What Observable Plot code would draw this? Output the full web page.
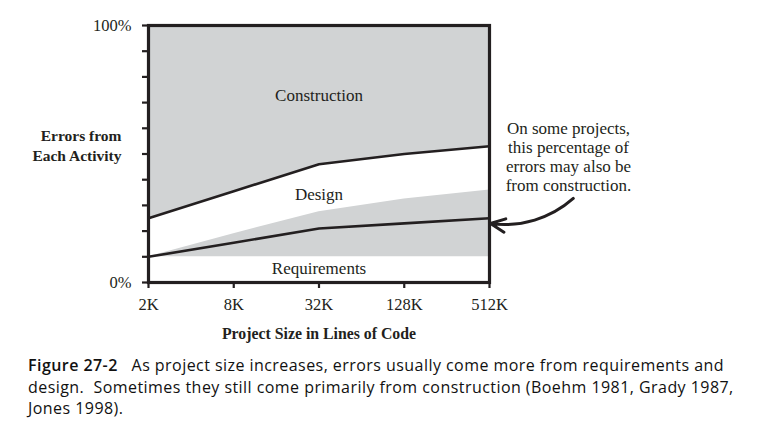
<!DOCTYPE html>
<html>
<head>
<meta charset="utf-8">
<script src="https://cdn.jsdelivr.net/npm/d3@7"></script>
<script src="https://cdn.jsdelivr.net/npm/@observablehq/plot@0.6"></script>
<style>
  body { margin: 0; background: #fff; }
  #chart svg { display: block; }
  #caption {
    font-family: "Open Sans", "Noto Sans", sans-serif;
    font-size: 16px;
    line-height: 21.5px;
    color: #111;
    margin: 10px 0 0 28px;
    white-space: nowrap;
  }
  #caption b { font-weight: 600; }
</style>
</head>
<body>
<div id="chart"></div>
<div id="caption"></div>
<script>
// Project sizes (thousands of lines of code) and tick labels
const sizes = [2, 8, 32, 128, 512];
const sizeLabels = ["2K", "8K", "32K", "128K", "512K"];

// Boundaries (% of errors)
const requirementsTop = [10, 10, 10, 10, 10];       // top of Requirements band
const lowerLine = [10, 15.5, 21, 23, 25];            // lower black line
const shadedDesignTop = [10, 19, 27.5, 32.5, 36];    // top of grey band inside Design
const designTop = [25, 35.5, 46, 50, 53];            // upper black line (Design / Construction)

const yTicks = [0, 10, 20, 30, 40, 50, 60, 70, 80, 90, 100];
const yTickLabels = {0: "0%", 100: "100%"};

// Region labels
const regionNames = ["Construction", "Design", "Requirements"];
const regionX = [32, 32, 32];
const regionY = [72.8, 34.2, 5.4];

// Annotation
const noteText = "On some projects,\nthis percentage of\nerrors may also be\nfrom construction.";
const noteY = 49.2;
const arrowFrom = {x: 2000, y: 32.7};
const arrowTo = {x: 512, y: 23};

const yTitle = "Errors from\nEach Activity";
const xTitle = "Project Size in Lines of Code";

const captionLines = [
  ["Figure 27-2", "   As project size increases, errors usually come more from requirements and"],
  ["", "design.  Sometimes they still come primarily from construction (Boehm 1981, Grady 1987,"],
  ["", "Jones 1998)."]
];

const rows = sizes.map((s, i) => ({
  size: s,
  req: requirementsTop[i],
  low: lowerLine[i],
  shade: shadedDesignTop[i],
  design: designTop[i]
}));

const ink = "#231f20";
const grey = "#d1d3d4";

const plot = Plot.plot({
  width: 771,
  height: 345,
  marginLeft: 148,
  marginRight: 282,
  marginTop: 25,
  marginBottom: 63,
  style: {fontFamily: "'Liberation Serif', 'DejaVu Serif', serif", fontSize: "16px", color: ink, background: "#fff", overflow: "visible"},
  x: {type: "log", base: 2, domain: [2, 512]},
  y: {domain: [0, 100]},
  marks: [
    Plot.areaY(rows, {x: "size", y1: "design", y2: () => 100, fill: grey}),
    Plot.areaY(rows, {x: "size", y1: "req", y2: "shade", fill: grey}),
    Plot.line(rows, {x: "size", y: "design", stroke: ink, strokeWidth: 2.6}),
    Plot.line(rows, {x: "size", y: "low", stroke: ink, strokeWidth: 2.6}),
    Plot.frame({stroke: ink, strokeWidth: 3.2}),
    Plot.axisY({ticks: yTicks, tickSize: 6, tickPadding: 11, strokeWidth: 2.2, stroke: ink, fill: ink,
      tickFormat: d => yTickLabels[d] ?? "", label: null, fontSize: 16.5}),
    Plot.axisX({ticks: sizes, tickSize: 6, tickPadding: 10, strokeWidth: 2.2, stroke: ink, fill: ink,
      tickFormat: d => sizeLabels[sizes.indexOf(d)], label: null, fontSize: 16.5}),
    Plot.text(regionNames, {x: (d, i) => regionX[i], y: (d, i) => regionY[i], text: d => d, fill: ink, fontSize: 17}),
    Plot.text([yTitle], {frameAnchor: "left", dx: -27, y: () => 53.6, textAnchor: "end", fontWeight: "bold", fill: ink, fontSize: 15.5, lineHeight: 1.28}),
    Plot.text([xTitle], {frameAnchor: "bottom", dy: 51, lineAnchor: "middle", fontWeight: "bold", fill: ink, fontSize: 15.8}),
    Plot.text([noteText], {frameAnchor: "right", dx: 79, y: () => noteY, textAnchor: "middle", fill: ink, fontSize: 17, lineHeight: 1.12}),
    Plot.arrow([0], {x1: () => arrowFrom.x, y1: () => arrowFrom.y, x2: () => arrowTo.x, y2: () => arrowTo.y,
      bend: 25, stroke: ink, strokeWidth: 3, headLength: 8, headAngle: 50, insetEnd: 1})
  ]
});
document.getElementById("chart").append(plot);

const cap = document.getElementById("caption");
captionLines.forEach(([bold, rest]) => {
  const div = document.createElement("div");
  if (bold) { const b = document.createElement("b"); b.textContent = bold; div.append(b); }
  const span = document.createElement("span");
  span.textContent = rest;
  span.style.whiteSpace = "pre";
  div.append(span);
  cap.append(div);
});
// fit first line to the reference width (~696px)
const first = cap.firstChild;
first.style.display = "inline-block";
const w = first.getBoundingClientRect().width;
const chars = (captionLines[0][0] + captionLines[0][1]).length;
cap.style.letterSpacing = ((696 - w) / chars) + "px";
first.style.display = "block";
</script>
</body>
</html>
